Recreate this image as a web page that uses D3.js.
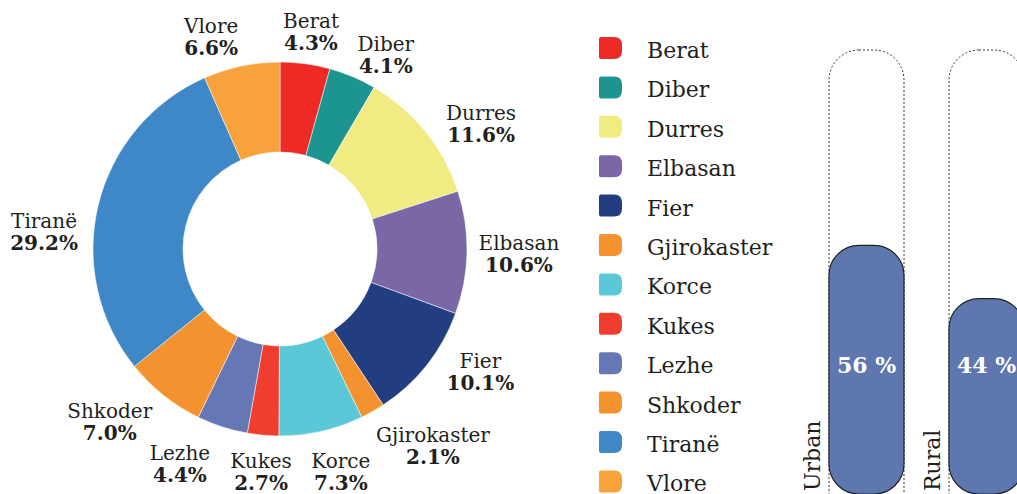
<!DOCTYPE html>
<html>
<head>
<meta charset="utf-8">
<script src="https://cdn.jsdelivr.net/npm/d3@7"></script>
<style>
  html, body { margin: 0; padding: 0; background: #ffffff; }
  svg { display: block; }
</style>
</head>
<body>
<svg id="chart" width="1017" height="494"></svg>
<script>
// ---- data ----
const regions = ["Berat", "Diber", "Durres", "Elbasan", "Fier", "Gjirokaster", "Korce", "Kukes", "Lezhe", "Shkoder", "Tiranë", "Vlore"];
const shares  = [4.3, 4.1, 11.6, 10.6, 10.1, 2.1, 7.3, 2.7, 4.4, 7.0, 29.2, 6.6];
const shareLabels = ["4.3%", "4.1%", "11.6%", "10.6%", "10.1%", "2.1%", "7.3%", "2.7%", "4.4%", "7.0%", "29.2%", "6.6%"];
const areaTypes = ["Urban", "Rural"];
const areaShares = [56, 44];
const areaLabels = ["56 %", "44 %"];

// ---- styles ----
const colors = ["#EE2A26", "#1C9591", "#F0EC82", "#7A67A6", "#233E80", "#F3922F", "#5AC8D6", "#EF3E2D", "#6577B5", "#F3922F", "#3E88C8", "#F7A23A"];
const textColor = "#231F20";
const serif = "'DejaVu Serif', serif";

const svg = d3.select("#chart");

// ---- donut ----
const cx = 280, cy = 249, R = 187, r = 97, Rl = 230;
const pie = d3.pie().sort(null).value(d => d).startAngle(0).endAngle(2 * Math.PI);
const arcs = pie(shares);
const arc = d3.arc().innerRadius(r).outerRadius(R);
const g = svg.append("g").attr("transform", `translate(${cx},${cy})`);
g.selectAll("path.slice").data(arcs).enter().append("path")
  .attr("class", "slice")
  .attr("d", arc)
  .attr("fill", (d, i) => colors[i])
  .attr("stroke", "#ffffff")
  .attr("stroke-width", 0.5);

// label nudges relative to mid-angle anchor (layout only)
const nudge = {
  "Berat": [0, 7], "Diber": [16.5, 14], "Durres": [22, 15.5], "Elbasan": [9, -3],
  "Fier": [20, -24], "Gjirokaster": [39, -7], "Korce": [10, -5], "Kukes": [2, -10],
  "Lezhe": [-29, -8], "Shkoder": [-27, -11], "Tiranë": [-12.5, 33.5], "Vlore": [-21.5, 9]
};
const labels = g.selectAll("g.lab").data(arcs).enter().append("g")
  .attr("class", "lab")
  .attr("transform", (d, i) => {
    const a = (d.startAngle + d.endAngle) / 2;
    const n = nudge[regions[i]];
    return `translate(${Rl * Math.sin(a) + n[0]},${-Rl * Math.cos(a) + n[1]})`;
  });
labels.append("text")
  .attr("text-anchor", "middle")
  .attr("font-family", serif)
  .attr("font-size", 20)
  .attr("fill", textColor)
  .text((d, i) => regions[i]);
labels.append("text")
  .attr("text-anchor", "middle")
  .attr("y", 22)
  .attr("font-family", serif)
  .attr("font-weight", "bold")
  .attr("font-size", 20)
  .attr("fill", textColor)
  .text((d, i) => shareLabels[i]);

// ---- legend ----
const legendY = d3.scalePoint().domain(regions).range([48, 481.4]);
const lg = svg.append("g");
const sw = 23, sh = 22, rBig = 8, rSmall = 2;
function swatchPath(x, y) {
  // left corners small, right corners big
  return `M${x + rSmall},${y} H${x + sw - rBig} Q${x + sw},${y} ${x + sw},${y + rBig}` +
         ` V${y + sh - rBig} Q${x + sw},${y + sh} ${x + sw - rBig},${y + sh}` +
         ` H${x + rSmall} Q${x},${y + sh} ${x},${y + sh - rSmall} V${y + rSmall} Q${x},${y} ${x + rSmall},${y} Z`;
}
const rows = lg.selectAll("g.row").data(regions).enter().append("g").attr("class", "row");
rows.append("path")
  .attr("d", d => swatchPath(599, legendY(d) - sh / 2))
  .attr("fill", (d, i) => colors[i]);
rows.append("text")
  .attr("x", 647)
  .attr("y", d => legendY(d) + 10)
  .attr("font-family", serif)
  .attr("font-size", 22)
  .attr("fill", textColor)
  .text(d => d);

// ---- urban / rural pills ----
const yScale = d3.scaleLinear().domain([0, 100]).range([494, 50]);
const xScale = d3.scaleBand().domain(areaTypes).range([829, 1024]).paddingInner(0.375).paddingOuter(0);
const pw = xScale.bandwidth();
const pr = 30;
const pg = svg.append("g");
// 100% outline (dashed)
pg.selectAll("rect.full").data(areaTypes).enter().append("rect")
  .attr("class", "full")
  .attr("x", d => xScale(d))
  .attr("y", yScale(100))
  .attr("width", pw)
  .attr("height", yScale(0) - yScale(100) + pr)
  .attr("rx", pr).attr("ry", pr)
  .attr("fill", "none")
  .attr("stroke", "#333")
  .attr("stroke-width", 1)
  .attr("stroke-dasharray", "2,2");
// filled bars
pg.selectAll("rect.bar").data(areaShares).enter().append("rect")
  .attr("class", "bar")
  .attr("x", (d, i) => xScale(areaTypes[i]))
  .attr("y", d => yScale(d))
  .attr("width", pw)
  .attr("height", d => yScale(0) - yScale(d))
  .attr("rx", pr).attr("ry", pr)
  .attr("fill", "#5E77AE")
  .attr("stroke", "#222")
  .attr("stroke-width", 1.2);
// value labels
pg.selectAll("text.val").data(areaLabels).enter().append("text")
  .attr("class", "val")
  .attr("x", (d, i) => xScale(areaTypes[i]) + pw / 2)
  .attr("y", 373)
  .attr("text-anchor", "middle")
  .attr("font-family", serif)
  .attr("font-weight", "bold")
  .attr("font-size", 22)
  .attr("fill", "#ffffff")
  .text(d => d);
// rotated category labels
pg.selectAll("text.cat").data(areaTypes).enter().append("text")
  .attr("class", "cat")
  .attr("transform", d => `translate(${xScale(d) - 9},491) rotate(-90)`)
  .attr("text-anchor", "start")
  .attr("font-family", serif)
  .attr("font-size", 22)
  .attr("fill", textColor)
  .text(d => d);
</script>
</body>
</html>
